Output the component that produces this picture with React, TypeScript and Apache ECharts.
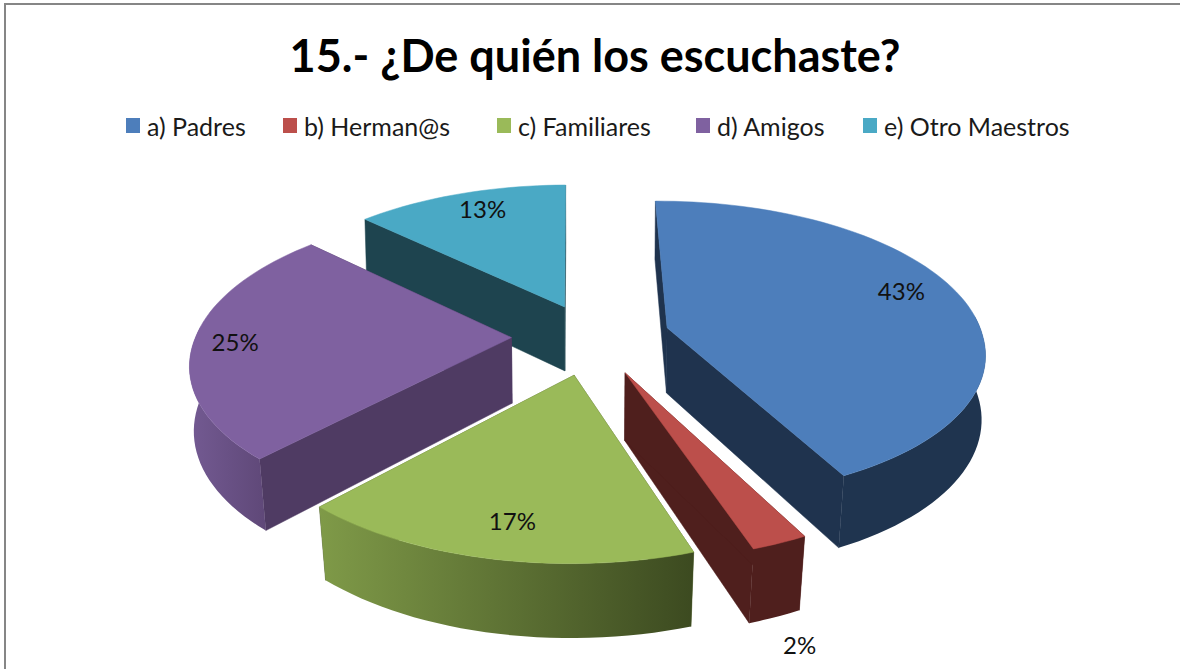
import React, { useEffect, useRef } from "react";
import * as echarts from "echarts";

const titleText = "15.- ¿De quién los escuchaste?";
const categories = ["a) Padres", "b) Herman@s", "c) Familiares", "d) Amigos", "e) Otro Maestros"];
const percentages = [42.6, 2.4, 17.0, 25.3, 12.7];

const FONT = "Lato";
const topColors = ["#4d7ebb", "#bc4f4b", "#9aba59", "#7f61a0", "#4aa9c5"];
const sideColors = ["#1f334e", "#4f1f1d", "#4f5f2c", "#4f3b63", "#1e444f"];
const wallStops: [string, string][] = [
  ["#1f344f", "#1f344f"],
  ["#4f1f1d", "#4f1f1d"],
  ["#7f9a48", "#3c4a20"],
  ["#735a92", "#5f4878"],
  ["#1e444f", "#1e444f"],
];
const explode = [0.247, 0.26, 0.26, 0.255, 0.225];
// label placement on the top face: radius, angle shift from the slice's middle
const labelPlace: [number, number][] = [
  [0.83, -5],
  [1.41, 6.5],
  [0.815, -1],
  [0.87, 0],
  [0.84, 2],
];
const legendLeft = [126, 283, 497, 696, 863];
const drawOrder = [4, 3, 0, 2, 1];

const ROT = -0.5;
const CX = 592, CY = 402, RX = 313, RY = 155, H = 65, D = 7.1, K0 = 0.06, K1 = 0.08;

function project(u: number, v: number, z: number): [number, number] {
  const k = K0 + K1 * Math.max(0, v);
  const s = D / (D - v - k * z);
  return [CX + RX * u * s, CY + RY * v * s - H * z * s];
}

function disc(deg: number, r: number): [number, number] {
  const a = (deg * Math.PI) / 180;
  return [r * Math.sin(a), -r * Math.cos(a)];
}

function sliceItem(index: number, share: number, before: number) {
  const start = (before / 100) * 360 + ROT;
  const sweep = (share / 100) * 360;
  const mid = start + sweep / 2;
  const [ox, oy] = disc(mid, explode[index]);
  const at = (deg: number, r: number, z: number) => {
    const [u, v] = disc(deg, r);
    return project(ox + u, oy + v, z);
  };
  const steps = Math.max(2, Math.ceil(sweep / 2));
  const arc: number[] = [];
  for (let i = 0; i <= steps; i++) arc.push(start + (sweep * i) / steps);

  const topFace = [at(0, 0, 1), ...arc.map((d) => at(d, 1, 1))];
  const radial = (deg: number) => [at(0, 0, 1), at(deg, 1, 1), at(deg, 1, 0), at(0, 0, 0)];
  const front = arc.filter((d) => disc(d, 1)[1] > -0.1);
  const children: any[] = [];
  const sideStyle = { fill: sideColors[index], stroke: sideColors[index], lineWidth: 0.5 };
  children.push({ type: "polygon", shape: { points: radial(start + sweep) }, style: sideStyle });
  children.push({ type: "polygon", shape: { points: radial(start) }, style: sideStyle });
  if (front.length > 1) {
    const pts = [...front.map((d) => at(d, 1, 1)), ...[...front].reverse().map((d) => at(d, 1, 0))];
    children.push({
      type: "polygon",
      shape: { points: pts },
      style: {
        fill: new echarts.graphic.LinearGradient(0, 0, 1, 0, [
          { offset: 0, color: wallStops[index][0] },
          { offset: 1, color: wallStops[index][1] },
        ]),
      },
    });
  }
  children.push({
    type: "polygon",
    shape: { points: topFace },
    style: { fill: topColors[index], stroke: topColors[index], lineWidth: 0.5 },
  });
  const [lr, ls] = labelPlace[index];
  const [lx, ly] = at(mid + ls, lr, 1);
  children.push({
    type: "text",
    x: lx,
    y: ly,
    style: {
      text: `${Math.round(share)}%`,
      fontFamily: FONT,
      fontSize: 24,
      fill: "#111111",
      textAlign: "center",
      textVerticalAlign: "middle",
    },
  });
  return { type: "group", children };
}

const cumulative = percentages.map((_, i) => percentages.slice(0, i).reduce((a, b) => a + b, 0));

export default function App() {
  const ref = useRef<HTMLDivElement>(null);
  useEffect(() => {
    const chart = echarts.init(ref.current!, undefined, { renderer: "svg" });
    chart.setOption({
      animation: false,
      backgroundColor: "#ffffff",
      title: {
        text: titleText,
        left: 590,
        top: 27,
        textAlign: "center",
        textStyle: { fontFamily: FONT, fontSize: 45, fontWeight: "bold", color: "#000000" },
      },
      legend: categories.map((name, i) => ({
        left: legendLeft[i],
        top: 113,
        padding: 0,
        icon: "rect",
        itemWidth: 14,
        itemHeight: 15,
        data: [name],
        selectedMode: false,
        textStyle: { fontFamily: FONT, fontSize: 25, color: "#1a1a1a", padding: [0, 0, 0, 2] },
      })),
      graphic: [
        {
          type: "polyline",
          shape: { points: [[5, 669], [5, 4], [1180, 4]] },
          style: { stroke: "#868686", lineWidth: 2, fill: "none" },
          silent: true,
        },
      ],
      series: categories.map((name, i) => ({
        type: "custom",
        name,
        coordinateSystem: "none",
        z: 2 + drawOrder.indexOf(i),
        itemStyle: { color: topColors[i] },
        data: [[percentages[i], cumulative[i]]],
        renderItem: (_: any, api: any) => sliceItem(i, api.value(0), api.value(1)),
      })),
    });
    return () => chart.dispose();
  }, []);
  return <div ref={ref} style={{ position: "absolute", left: 0, top: 0, width: 1180, height: 669 }} />;
}
